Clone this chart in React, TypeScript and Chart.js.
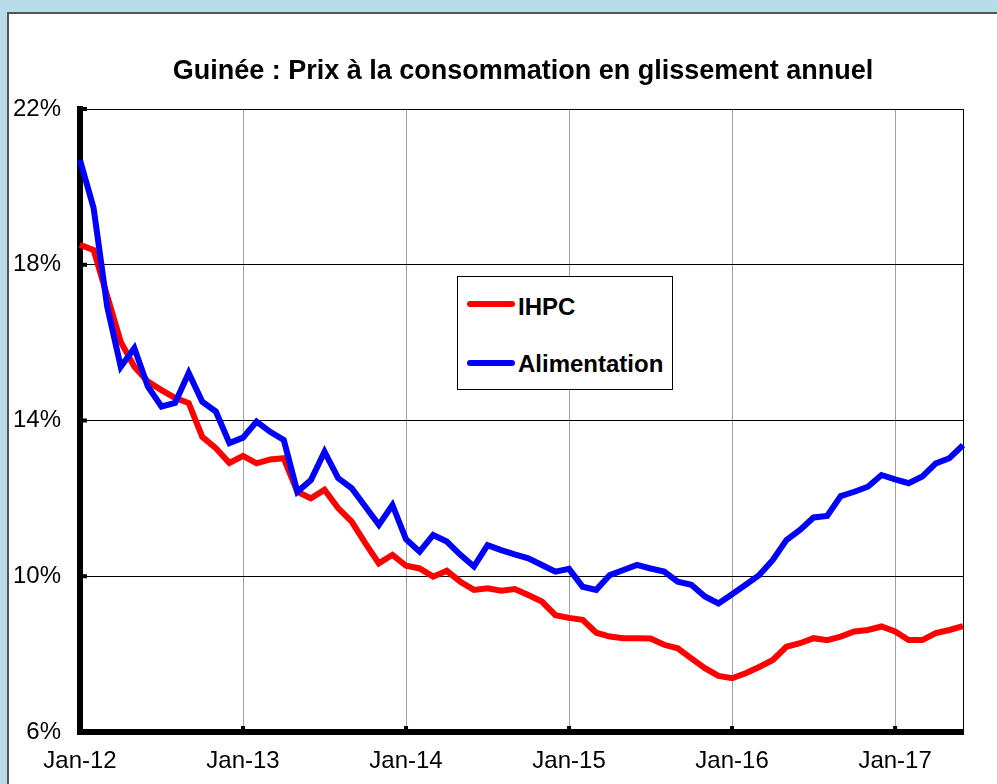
import React, { useEffect, useRef } from 'react';
import { Chart, registerables } from 'chart.js';

Chart.register(...registerables);

const MONTHS = ['Jan', 'Feb', 'Mar', 'Apr', 'May', 'Jun', 'Jul', 'Aug', 'Sep', 'Oct', 'Nov', 'Dec'];
const YEARS = ['12', '13', '14', '15', '16', '17'];
const LAST_YEAR_MONTHS = 6;

const CATEGORIES: string[] = [];
YEARS.forEach((yy, yi) => {
  const n = yi === YEARS.length - 1 ? LAST_YEAR_MONTHS : 12;
  for (let m = 0; m < n; m++) CATEGORIES.push(`${MONTHS[m]}-${yy}`);
});

const IHPC = [
  18.51, 18.38, 17.2, 16.02, 15.38, 15.0, 14.78, 14.58, 14.45, 13.58, 13.29, 12.91,
  13.09, 12.9, 13.0, 13.03, 12.17, 12.0, 12.22, 11.75, 11.4, 10.85, 10.33, 10.55,
  10.27, 10.2, 9.99, 10.14, 9.86, 9.65, 9.69, 9.63, 9.67, 9.52, 9.35, 9.0,
  8.93, 8.88, 8.55, 8.45, 8.41, 8.41, 8.4, 8.24, 8.15, 7.89, 7.64, 7.44,
  7.38, 7.51, 7.67, 7.85, 8.19, 8.28, 8.41, 8.36, 8.45, 8.58, 8.62, 8.71,
  8.58, 8.36, 8.36, 8.54, 8.62, 8.72,
];

const ALIMENTATION = [
  20.69, 19.46, 16.93, 15.38, 15.86, 14.87, 14.36, 14.45, 15.22, 14.48, 14.23, 13.42,
  13.56, 13.97, 13.71, 13.5, 12.17, 12.47, 13.2, 12.52, 12.26, 11.79, 11.32, 11.83,
  10.95, 10.63, 11.06, 10.89, 10.55, 10.25, 10.8, 10.67, 10.56, 10.46, 10.29, 10.12,
  10.19, 9.73, 9.65, 10.03, 10.16, 10.29, 10.2, 10.12, 9.86, 9.78, 9.48, 9.3,
  9.54, 9.78, 10.03, 10.42, 10.93, 11.19, 11.51, 11.55, 12.06, 12.17, 12.3, 12.6,
  12.49, 12.39, 12.56, 12.9, 13.03, 13.37,
];

const Y_TICKS = [6, 10, 14, 18, 22];
const TITLE = 'Guinée : Prix à la consommation en glissement annuel';
const SERIES_NAMES = ['IHPC', 'Alimentation'];
const COLORS = ['#ff0000', '#0000ff'];

const FONT = "'Liberation Sans', Arial, sans-serif";

export default function App() {
  const ref = useRef<HTMLCanvasElement>(null);

  useEffect(() => {
    const tickMarks = {
      id: 'tickMarks',
      beforeDatasetsDraw(chart: any) {
        const { ctx, chartArea, scales } = chart;
        ctx.save();
        ctx.fillStyle = '#000';
        Y_TICKS.forEach((v) => {
          const y = scales.y.getPixelForValue(v);
          ctx.fillRect(chartArea.left, y - 2, 7, 4);
        });
        CATEGORIES.forEach((_c, i) => {
          if (i % 12 === 0 && i > 0) {
            const x = scales.x.getPixelForValue(i);
            ctx.fillRect(x - 2, chartArea.bottom - 6, 4, 6);
          }
        });
        ctx.restore();
      },
    };

    const chart = new Chart(ref.current as HTMLCanvasElement, {
      type: 'line',
      data: {
        labels: CATEGORIES,
        datasets: [
          {
            label: SERIES_NAMES[0],
            data: IHPC,
            borderColor: COLORS[0],
            backgroundColor: COLORS[0],
            borderWidth: 6,
            pointRadius: 0,
            tension: 0,
            order: 1,
          },
          {
            label: SERIES_NAMES[1],
            data: ALIMENTATION,
            borderColor: COLORS[1],
            backgroundColor: COLORS[1],
            borderWidth: 6,
            pointRadius: 0,
            tension: 0,
            order: 0,
          },
        ],
      },
      options: {
        responsive: false,
        maintainAspectRatio: false,
        devicePixelRatio: 1,
        animation: false,
        events: [],
        layout: { padding: { top: 109, right: 34, bottom: 0, left: 0 } },
        plugins: {
          legend: { display: false },
          tooltip: { enabled: false },
          title: { display: false },
        },
        scales: {
          x: {
            type: 'category',
            offset: false,
            grid: {
              drawTicks: false,
              lineWidth: 1,
              color: (ctx: any) => {
                const i = ctx.index;
                if (i === CATEGORIES.length - 1) return '#000';
                if (i % 12 === 0 && i > 0) return '#a0a0a0';
                return 'rgba(0,0,0,0)';
              },
            },
            border: { display: true, color: '#000', width: 6 },
            ticks: {
              autoSkip: false,
              maxRotation: 0,
              minRotation: 0,
              padding: 15,
              color: '#000',
              font: { family: FONT, size: 24 },
              callback: (_v: any, i: number) => (i % 12 === 0 ? CATEGORIES[i] : ''),
            },
            afterFit: (scale: any) => {
              scale.height = 52;
            },
          },
          y: {
            min: 6,
            max: 22,
            grid: { drawTicks: false, color: '#000', lineWidth: 1 },
            border: { display: true, color: '#000', width: 6 },
            ticks: {
              stepSize: 4,
              padding: 19,
              color: '#000',
              font: { family: FONT, size: 24 },
              callback: (v: any) => `${v}%`,
            },
            afterFit: (scale: any) => {
              scale.width = 80;
            },
          },
        },
      },
      plugins: [tickMarks],
    } as any);

    return () => chart.destroy();
  }, []);

  const legendText: React.CSSProperties = {
    position: 'absolute',
    left: 60,
    fontFamily: FONT,
    fontWeight: 'bold',
    fontSize: 24,
    lineHeight: '24px',
    color: '#000',
    whiteSpace: 'nowrap',
  };
  const legendLine = (color: string, top: number): React.CSSProperties => ({
    position: 'absolute',
    left: 9,
    top,
    width: 48,
    height: 6,
    borderRadius: 3,
    background: color,
  });

  return (
    <div
      style={{
        position: 'fixed',
        left: 0,
        top: 0,
        width: 997,
        height: 784,
        overflow: 'hidden',
        background: '#b8dde9',
      }}
    >
      <div
        style={{
          position: 'absolute',
          left: 7,
          top: 12,
          width: 1100,
          height: 900,
          background: '#fff',
          borderLeft: '2px solid #555',
          borderTop: '2px solid #555',
        }}
      />
      <canvas
        ref={ref}
        width={997}
        height={784}
        style={{ position: 'absolute', left: 0, top: 0, width: 997, height: 784 }}
      />
      <div
        style={{
          position: 'absolute',
          left: 0,
          top: 54,
          width: 1046,
          textAlign: 'center',
          fontFamily: FONT,
          fontWeight: 'bold',
          fontSize: 27,
          lineHeight: '32px',
          color: '#000',
          whiteSpace: 'nowrap',
        }}
      >
        {TITLE}
      </div>
      <div
        style={{
          position: 'absolute',
          left: 457,
          top: 276,
          width: 216,
          height: 114,
          boxSizing: 'border-box',
          background: '#fff',
          border: '1px solid #000',
        }}
      >
        <div style={legendLine(COLORS[0], 24)} />
        <div style={{ ...legendText, top: 18 }}>{SERIES_NAMES[0]}</div>
        <div style={legendLine(COLORS[1], 83)} />
        <div style={{ ...legendText, top: 75 }}>{SERIES_NAMES[1]}</div>
      </div>
    </div>
  );
}
